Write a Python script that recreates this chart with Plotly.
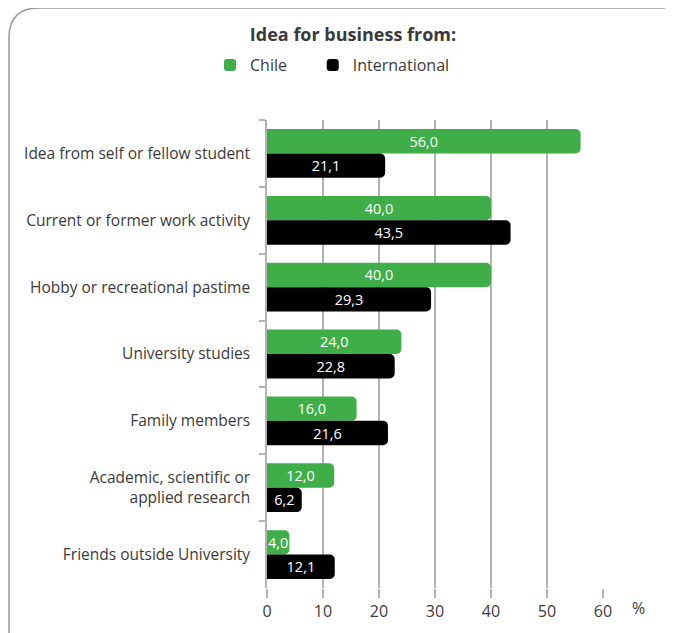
import plotly.graph_objects as go

categories = [
    "Idea from self or fellow student",
    "Current or former work activity",
    "Hobby or recreational pastime",
    "University studies",
    "Family members",
    "Academic, scientific or<br>applied research",
    "Friends outside University",
]
chile = [56.0, 40.0, 40.0, 24.0, 16.0, 12.0, 4.0]
international = [21.1, 43.5, 29.3, 22.8, 21.6, 6.2, 12.1]
x_ticks = [0, 10, 20, 30, 40, 50, 60]

FONT = "Open Sans"
OFF = 8  # page body margin
W, H = 673 - OFF, 633 - OFF
L, R, T, B = 267 - OFF, 70, 120 - OFF, 45
pw, ph = W - L - R, H - T - B


def fmt(v):
    return f"{v:.1f}".replace(".", ",")


fig = go.Figure()
fig.add_trace(go.Bar(
    y=categories, x=chile, name="Chile" + "\u00a0" * 5, orientation="h",
    marker=dict(color="#3fae49", line=dict(width=0)),
    text=[fmt(v) for v in chile], textposition="inside",
    insidetextanchor="middle", textangle=0, constraintext="none",
    textfont=dict(color="white", size=14.5, family=FONT),
))
fig.add_trace(go.Bar(
    y=categories, x=international, name="International", orientation="h",
    marker=dict(color="#000000", line=dict(width=0)),
    text=[fmt(v) for v in international], textposition="inside",
    insidetextanchor="middle", textangle=0, constraintext="none",
    textfont=dict(color="white", size=14.5, family=FONT),
))


# page pixel -> paper coords
def px_x(p):
    return (p - OFF - L) / pw


def px_y(p):
    return (H + OFF - B - p) / ph


# rounded frame (left + top edges)
x0, y0, x1, y1, r = 9, 8, 680, 640, 30
path = (f"M {px_x(x0)},{px_y(y1)} L {px_x(x0)},{px_y(y0 + r)} "
        f"Q {px_x(x0)},{px_y(y0)} {px_x(x0 + r)},{px_y(y0)} "
        f"L {px_x(x1)},{px_y(y0)}")

fig.update_layout(
    width=W, height=H,
    margin=dict(l=L, r=R, t=T, b=B, autoexpand=False),
    paper_bgcolor="white", plot_bgcolor="white",
    font=dict(family=FONT, color="#3a3a3a"),
    barmode="group", bargap=0.27, bargroupgap=0.0, barcornerradius=5,
    uniformtext=dict(minsize=14.5, mode="show"),
    title=dict(text="<b>Idea for business from:</b>", x=(353 - OFF) / W, xanchor="center",
               y=1 - (35 - OFF) / H, yanchor="middle",
               font=dict(size=18, color="#3a3a3a", family=FONT)),
    legend=dict(orientation="h", x=px_x(210), xanchor="left",
                y=px_y(65), yanchor="middle",
                font=dict(size=16, color="#3a3a3a"), itemwidth=30,
                tracegroupgap=0, itemclick=False),
    showlegend=True,
    shapes=[dict(type="path", xref="paper", yref="paper", path=path,
                 line=dict(color="#9a9a9a", width=1.5), layer="below")],
    annotations=[dict(text="%", xref="paper", yref="paper",
                      x=px_x(638), y=px_y(608), xanchor="center", yanchor="middle",
                      showarrow=False, font=dict(size=16, color="#3a3a3a"))],
)
fig.update_xaxes(
    range=[0, 60], tickvals=x_ticks, showgrid=True, automargin=False,
    gridcolor="#b3b3b3", gridwidth=1.5, zeroline=False, showline=False,
    ticks="outside", ticklen=9, tickcolor="#b3b3b3", tickwidth=1.5,
    tickfont=dict(size=16, color="#3a3a3a"),
)
fig.update_yaxes(
    autorange="reversed", showline=True, linecolor="#b3b3b3", linewidth=1.5,
    ticks="outside", tickson="boundaries", ticklen=6, tickcolor="#b3b3b3",
    tickwidth=1.5, ticklabelstandoff=12, showgrid=False, automargin=False,
    tickfont=dict(size=15.5, color="#3a3a3a"),
)

fig.write_html("out.html")
